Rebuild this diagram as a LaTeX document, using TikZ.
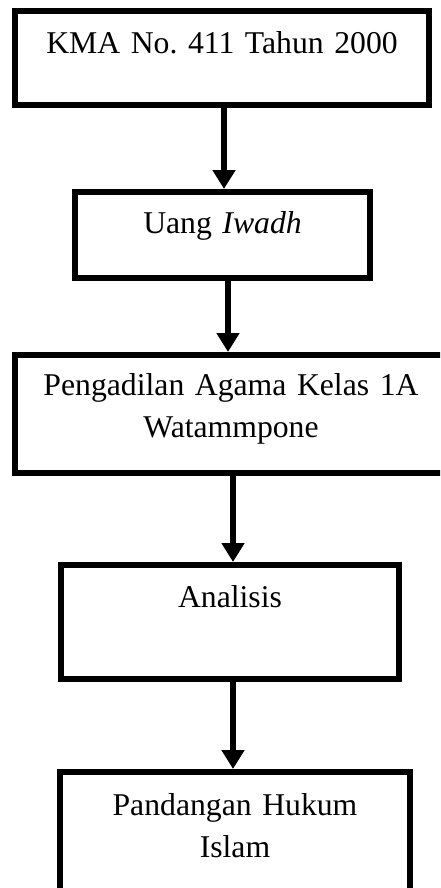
\documentclass[tikz,border=0pt]{standalone}
\usepackage{fontspec}
\setmainfont{Liberation Serif}
\frenchspacing
\usetikzlibrary{arrows.meta}
\tikzset{
  flowbox/.style={draw=black, line width=6pt, inner sep=0pt, outer sep=3pt,
    anchor=north west, align=center,
    font=\fontsize{31.7}{42}\selectfont\frenchspacing},
  arr/.style={line width=6.5pt, -{Triangle[width=22pt,length=19pt]}}
}
\begin{document}
\begin{tikzpicture}[x=1pt,y=-1pt]
\useasboundingbox (0,0) rectangle (440,888);
\clip (0,0) rectangle (440,888);
\fill[white] (0,0) rectangle (440,888);

\node[flowbox, text width=414pt, text height=43pt, text depth=51pt] (b1) at (12,8)
  {KMA No. 411 Tahun 2000};
\node[flowbox, text width=295pt, text height=41pt, text depth=45pt] (b2) at (72,189)
  {Uang \textit{Iwadh}};
\node[flowbox, text width=432pt, text height=40pt, text depth=78pt] (b3) at (12,352)
  {Pengadilan Agama Kelas 1A\\Watammpone};
\node[flowbox, text width=338pt, text height=42.5pt, text depth=71pt] (b4) at (58,562)
  {Analisis};
\node[flowbox, text width=350pt, text height=43pt, text depth=75.5pt] (b5) at (57,769)
  {Pandangan Hukum\\Islam};

\draw[arr] ([xshift=2pt]b1.south) coordinate (s1) -- (s1 |- b2.north);
\draw[arr] ([xshift=5.5pt,yshift=6pt]b2.south) coordinate (s2) -- (s2 |- b3.north);
\draw[arr] ([xshift=2pt]b3.south) coordinate (s3) -- (s3 |- b4.north);
\draw[arr] ([xshift=3pt]b4.south) coordinate (s4) -- (s4 |- b5.north);
\end{tikzpicture}
\end{document}
